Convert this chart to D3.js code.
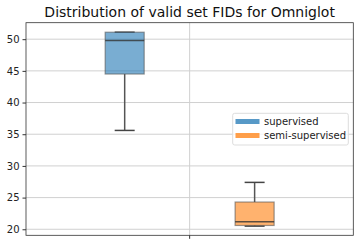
<!DOCTYPE html>
<html><head><meta charset="utf-8">
<script src="https://cdn.jsdelivr.net/npm/d3@7"></script>
<style>body{margin:0;background:#fff}svg{display:block}</style>
</head><body>
<svg id="c" width="360" height="246"></svg>
<script>
const seriesNames = ["supervised", "semi-supervised"];
const colors = ["#1f77b4", "#ff7f0e"];
const whiskerLow = [35.6, 20.5];
const q1 = [44.5, 20.6];
const median = [49.8, 21.2];
const q3 = [51.1, 24.3];
const whiskerHigh = [51.1, 27.4];
const yTicks = [20, 25, 30, 35, 40, 45, 50];
const title = "Distribution of valid set FIDs for Omniglot";

const svg = d3.select("#c");
const L = 26, R = 353.3, T = 22.7, B = 235.3;
const y = d3.scaleLinear().domain([19.05, 52.6]).range([B, T]);
const x = d3.scaleLinear().domain([-1, 1]).range([L, R]);
const pos = [-0.397, 0.397];
const bw = 39;

// grid
svg.append("g").selectAll("line").data(yTicks).join("line")
  .attr("x1", L).attr("x2", R).attr("y1", d => y(d)).attr("y2", d => y(d))
  .attr("stroke", "#d0d0d0").attr("stroke-width", 1);
svg.append("line").attr("x1", x(0)).attr("x2", x(0)).attr("y1", T).attr("y2", B)
  .attr("stroke", "#d0d0d0");

// boxes
seriesNames.forEach((s, i) => {
  const cx = x(pos[i]);
  const g = svg.append("g");
  g.append("line").attr("x1", cx).attr("x2", cx).attr("y1", y(whiskerLow[i])).attr("y2", y(q1[i]))
    .attr("stroke", "#555").attr("stroke-width", 1.5);
  g.append("line").attr("x1", cx).attr("x2", cx).attr("y1", y(q3[i])).attr("y2", y(whiskerHigh[i]))
    .attr("stroke", "#555").attr("stroke-width", 1.5);
  [whiskerLow[i], whiskerHigh[i]].forEach(v => {
    g.append("line").attr("x1", cx - 10).attr("x2", cx + 10).attr("y1", y(v)).attr("y2", y(v))
      .attr("stroke", "#444").attr("stroke-width", 1.5);
  });
  g.append("rect").attr("x", cx - bw / 2).attr("width", bw)
    .attr("y", y(q3[i])).attr("height", y(q1[i]) - y(q3[i]))
    .attr("fill", colors[i]).attr("fill-opacity", 0.6)
    .attr("stroke", "#555").attr("stroke-opacity", 0.6).attr("stroke-width", 1.2);
  g.append("line").attr("x1", cx - bw / 2).attr("x2", cx + bw / 2).attr("y1", y(median[i])).attr("y2", y(median[i]))
    .attr("stroke", "#333").attr("stroke-opacity", 0.8).attr("stroke-width", 1.5);
});

// frame
svg.append("rect").attr("x", L).attr("y", T).attr("width", R - L).attr("height", B - T)
  .attr("fill", "none").attr("stroke", "#333").attr("stroke-width", 0.8);

// y axis ticks
const ya = svg.append("g").attr("transform", `translate(${L},0)`)
  .call(d3.axisLeft(y).tickValues(yTicks).tickSize(3.5).tickPadding(3));
ya.select(".domain").remove();
ya.selectAll("text").attr("font-family", "DejaVu Sans").attr("font-size", 10).attr("fill", "#222");
ya.selectAll("line").attr("stroke", "#333");
// x tick
svg.append("line").attr("x1", x(0)).attr("x2", x(0)).attr("y1", B).attr("y2", B + 3.5).attr("stroke", "#333");

// title
svg.append("text").attr("x", (L + R) / 2).attr("y", 17).attr("text-anchor", "middle")
  .attr("font-family", "DejaVu Sans").attr("font-size", 14).attr("fill", "#111").text(title);

// legend
const lg = svg.append("g");
lg.append("rect").attr("x", 232.7).attr("y", 113.3).attr("width", 115.6).attr("height", 31.7)
  .attr("rx", 2).attr("fill", "#fff").attr("fill-opacity", 0.8).attr("stroke", "#ddd");
seriesNames.forEach((s, i) => {
  const yy = 121.5 + i * 14;
  lg.append("rect").attr("x", 235.5).attr("y", yy - 2.5).attr("width", 24).attr("height", 5)
    .attr("fill", colors[i]).attr("fill-opacity", 0.75);
  lg.append("text").attr("x", 264).attr("y", yy + 3.5).attr("font-family", "DejaVu Sans")
    .attr("font-size", 10).attr("fill", "#222").text(s);
});
</script>
</body></html>
